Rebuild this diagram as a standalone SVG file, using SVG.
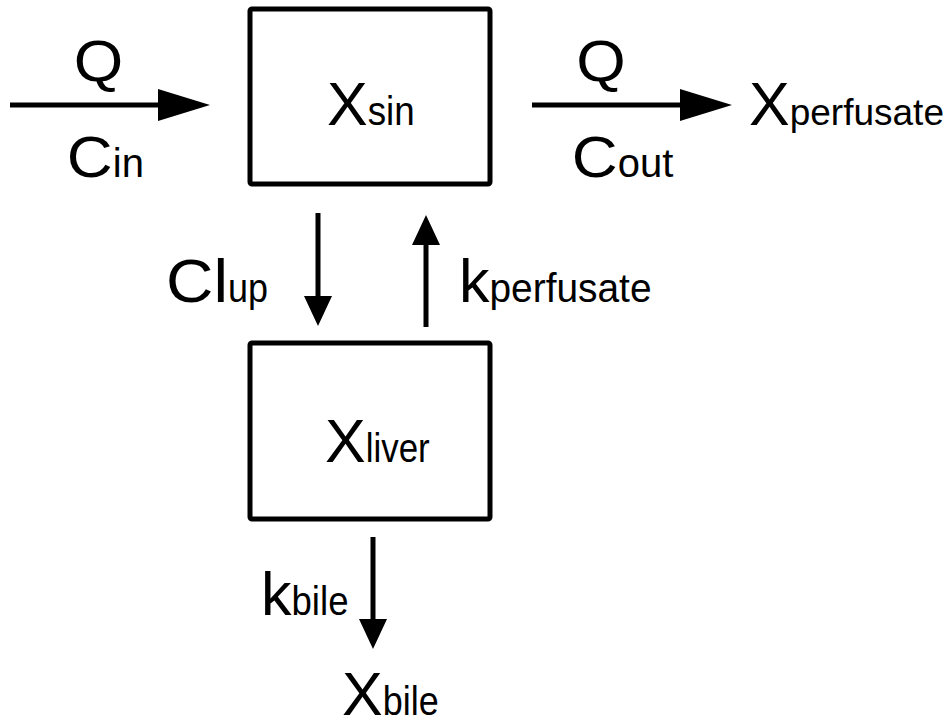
<svg xmlns="http://www.w3.org/2000/svg" width="951" height="727" viewBox="0 0 951 727">
<style>
.box{fill:#fff;stroke:#000;stroke-width:5}
.ln{fill:none;stroke:#000;stroke-width:5}
text{font-family:"Liberation Sans",Arial,sans-serif;fill:#000}
.m{font-size:61px}
.q{font-size:58px}
.s{font-size:40px}
.sn{font-size:37px}
</style>
<defs>
<marker id="big" markerUnits="userSpaceOnUse" markerWidth="52" markerHeight="32" viewBox="0 0 52 32" refX="1" refY="16" orient="auto"><path d="M0,0 L52,16 L0,32 z" fill="#000"/></marker>
<marker id="small" markerUnits="userSpaceOnUse" markerWidth="30" markerHeight="28" viewBox="0 0 30 28" refX="1" refY="14" orient="auto"><path d="M0,0 L30,14 L0,28 z" fill="#000"/></marker>
</defs>
<rect width="951" height="727" fill="#fff"/>
<g id="connectors">
<path class="ln" d="M10,105 H159" marker-end="url(#big)"/>
<path class="ln" d="M532,105 H681" marker-end="url(#big)"/>
<path class="ln" d="M318,213 V297" marker-end="url(#small)"/>
<path class="ln" d="M426,327 V244" marker-end="url(#small)"/>
<path class="ln" d="M373,537 V620" marker-end="url(#small)"/>
</g>
<g id="sin">
<rect class="box" x="250" y="9" width="240" height="175" rx="2"/>
<text x="327" y="125" class="m">X</text>
<text x="367.7" y="125" class="s" textLength="47" lengthAdjust="spacingAndGlyphs">sin</text>
</g>
<g id="liver">
<rect class="box" x="250" y="343" width="240" height="176" rx="2"/>
<text x="325" y="462" class="m">X</text>
<text x="365.7" y="462" class="s" textLength="64" lengthAdjust="spacingAndGlyphs">liver</text>
</g>
<g id="perfusate">
<text x="749" y="125" class="m">X</text>
<text x="789.7" y="125" class="sn">perfusate</text>
</g>
<g id="bile">
<text x="342" y="715" class="m">X</text>
<text x="382.7" y="715" class="s" textLength="56" lengthAdjust="spacingAndGlyphs">bile</text>
</g>
<g id="labels">
<text x="73.75" y="81" class="q" textLength="49.5" lengthAdjust="spacingAndGlyphs">Q</text>
<text x="66.8" y="177" class="q" textLength="46" lengthAdjust="spacingAndGlyphs">C</text>
<text x="112.8" y="177" class="s">in</text>
<text x="576.25" y="81" class="q" textLength="49.5" lengthAdjust="spacingAndGlyphs">Q</text>
<text x="571.8" y="177" class="q" textLength="46" lengthAdjust="spacingAndGlyphs">C</text>
<text x="617.8" y="177" class="s">out</text>
<text x="166" y="302" class="m" textLength="62" lengthAdjust="spacingAndGlyphs">Cl</text>
<text x="228" y="302" class="s" textLength="40" lengthAdjust="spacingAndGlyphs">up</text>
<text x="459" y="302" class="m">k</text>
<text x="489.5" y="302" class="s" textLength="162" lengthAdjust="spacingAndGlyphs">perfusate</text>
<text x="261" y="615" class="m">k</text>
<text x="291.5" y="615" class="s" textLength="57" lengthAdjust="spacingAndGlyphs">bile</text>
</g>
</svg>
